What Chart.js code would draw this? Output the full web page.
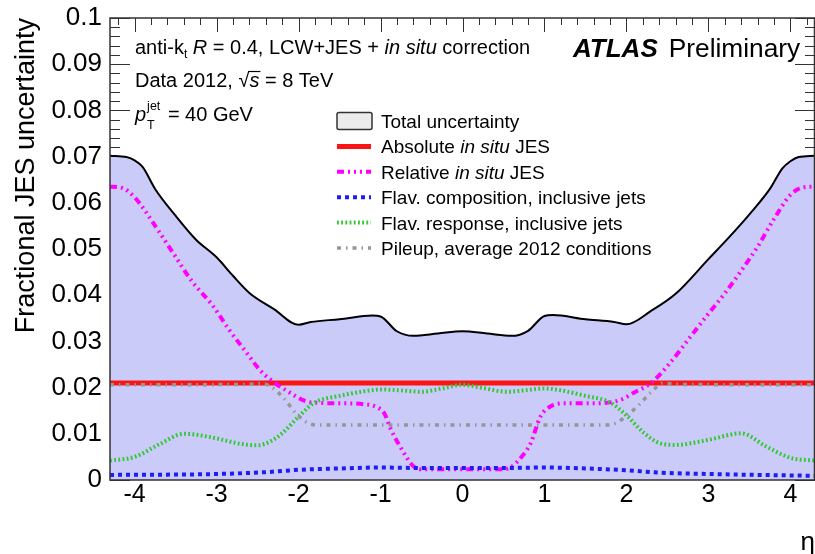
<!DOCTYPE html>
<html>
<head>
<meta charset="utf-8">
<script src="https://cdn.jsdelivr.net/npm/chart.js@4/dist/chart.umd.min.js"></script>
<style>
  html, body { margin: 0; padding: 0; background: #fff; }
</style>
</head>
<body>
<canvas id="graficoJES" width="815" height="554"></canvas>
<script>
const FONT = '"Liberation Sans", Arial, Helvetica, sans-serif';

// eta grid and values for each component
const etaTotal = [-4.3, -4.1, -4.0, -3.9, -3.75, -3.5, -3.25, -3.0, -2.8, -2.6, -2.3, -2.0, -1.85, -1.5, -1.1, -1.0, -0.8, -0.6, -0.3, 0, 0.3, 0.6, 0.8, 1.0, 1.1, 1.5, 1.85, 2.0, 2.3, 2.6, 3.0, 3.25, 3.5, 3.75, 3.9, 4.0, 4.1, 4.3];
const total = [0.0702, 0.0699, 0.0692, 0.0677, 0.0630, 0.0572, 0.0520, 0.0482, 0.0442, 0.0405, 0.0370, 0.0336, 0.0342, 0.0348, 0.0356, 0.0354, 0.0322, 0.0312, 0.0317, 0.0322, 0.0317, 0.0312, 0.0323, 0.0355, 0.0357, 0.0348, 0.0342, 0.0337, 0.0366, 0.0403, 0.0478, 0.0525, 0.0575, 0.0630, 0.0674, 0.0690, 0.0699, 0.0702];

const etaAbs = [-4.3, 4.3];
const absolute = [0.021, 0.021];

const etaRel = [-4.3, -4.15, -4.0, -3.7, -3.5, -3.3, -3.05, -2.85, -2.65, -2.45, -2.15, -1.85, -1.5, -1.2, -1.05, -0.95, -0.88, -0.76, -0.6, -0.5, 0, 0.5, 0.6, 0.72, 0.83, 0.95, 1.07, 1.25, 1.6, 1.92, 2.1, 2.3, 2.53, 2.78, 3.0, 3.2, 3.4, 3.6, 3.8, 4.0, 4.15, 4.3];
const relative = [0.0635, 0.0632, 0.0612, 0.0537, 0.0483, 0.0430, 0.0378, 0.0326, 0.0279, 0.0234, 0.0194, 0.0168, 0.0166, 0.0164, 0.0158, 0.0143, 0.0112, 0.0072, 0.0030, 0.0023, 0.0023, 0.0023, 0.0029, 0.0050, 0.0079, 0.0137, 0.0159, 0.0166, 0.0166, 0.0173, 0.0190, 0.0210, 0.0253, 0.0310, 0.0360, 0.0404, 0.0453, 0.0505, 0.0565, 0.0617, 0.0633, 0.0635];

const etaComp = [-4.3, -3.0, -2.4, -2.0, -1.5, -1.0, -0.5, 0, 0.5, 1.0, 1.5, 2.0, 2.4, 3.0, 4.3];
const flavComp = [0.0011, 0.0013, 0.0017, 0.0022, 0.0025, 0.0027, 0.0026, 0.0026, 0.0026, 0.0027, 0.0025, 0.0021, 0.0016, 0.0013, 0.0009];

const etaResp = [-4.3, -4.0, -3.7, -3.4, -3.25, -3.0, -2.7, -2.5, -2.35, -2.2, -2.0, -1.8, -1.5, -1.2, -1.0, -0.75, -0.5, -0.25, 0, 0.25, 0.55, 0.8, 1.0, 1.2, 1.5, 1.8, 2.0, 2.2, 2.4, 2.6, 3.0, 3.4, 3.7, 4.0, 4.3];
const flavResp = [0.0042, 0.0050, 0.0077, 0.0100, 0.0098, 0.0090, 0.0078, 0.0075, 0.0083, 0.0101, 0.0137, 0.0168, 0.0182, 0.0192, 0.0196, 0.0194, 0.0191, 0.0198, 0.0206, 0.0199, 0.0191, 0.0195, 0.0198, 0.0194, 0.0182, 0.0168, 0.0140, 0.0104, 0.0080, 0.0076, 0.0087, 0.0101, 0.0073, 0.0048, 0.0042];

const etaPileup = [-4.3, -2.6, -2.45, -2.33, -2.18, -2.03, -1.88, -1.75, 1.75, 1.88, 2.0, 2.15, 2.3, 2.45, 2.6, 4.3];
const pileup = [0.0206, 0.0207, 0.0209, 0.0201, 0.0177, 0.0144, 0.0123, 0.0119, 0.0119, 0.0124, 0.0139, 0.0162, 0.0190, 0.0210, 0.0207, 0.0206];

// legend entries (italic parts flagged)
const legendLabels = [
    [{ t: "Total uncertainty" }],
    [{ t: "Absolute " }, { t: "in situ", i: true }, { t: " JES" }],
    [{ t: "Relative " }, { t: "in situ", i: true }, { t: " JES" }],
    [{ t: "Flav. composition, inclusive jets" }],
    [{ t: "Flav. response, inclusive jets" }],
    [{ t: "Pileup, average 2012 conditions" }],
];

const pares = (xs, ys) => xs.map((x, i) => ({ x, y: ys[i] }));

function fonte(size, italic, bold) {
    return `${italic ? "italic " : ""}${bold ? "bold " : ""}${size}px ${FONT}`;
}

function desenhaTrechos(ctx, x, y, trechos, size) {
    trechos.forEach((r) => {
        ctx.font = fonte(r.size || size, r.i, r.b);
        ctx.fillText(r.t, x, y + (r.dy || 0));
        x += ctx.measureText(r.t).width;
    });
    return x;
}

// inward ROOT-style ticks on all four sides, drawn under the filled band
const ticksPlugin = {
    id: "ticksInternos",
    beforeDatasetsDraw(chart) {
        const { ctx, chartArea: a, scales } = chart;
        const sx = scales.x, sy = scales.y;
        ctx.save();
        ctx.strokeStyle = "#333";
        ctx.lineWidth = 1;
        ctx.beginPath();
        for (let k = -21; k <= 21; k++) {
            const px = Math.round(sx.getPixelForValue(k * 0.2)) + 0.5;
            const len = k % 5 === 0 ? 14 : 7;
            ctx.moveTo(px, a.top); ctx.lineTo(px, a.top + len);
            ctx.moveTo(px, a.bottom); ctx.lineTo(px, a.bottom - len);
        }
        for (let k = 0; k <= 50; k++) {
            const py = Math.round(sy.getPixelForValue(k * 0.002)) + 0.5;
            const len = k % 5 === 0 ? 20 : 10;
            ctx.moveTo(a.left, py); ctx.lineTo(a.left + len, py);
            ctx.moveTo(a.right, py); ctx.lineTo(a.right - len, py);
        }
        ctx.stroke();
        ctx.restore();
    },
    afterDatasetsDraw(chart) {
        const { ctx, chartArea: a } = chart;
        ctx.save();
        ctx.strokeStyle = "#333";
        ctx.lineWidth = 1.5;
        ctx.strokeRect(a.left, a.top, a.right - a.left - 0.5, a.bottom - a.top);
        ctx.restore();
    },
};

// annotation text and legend
const textoPlugin = {
    id: "textos",
    afterDraw(chart) {
        const { ctx, chartArea: a } = chart;
        ctx.save();
        ctx.fillStyle = "#000";
        ctx.textBaseline = "alphabetic";
        const x0 = a.left + 25;
        const fs = 20;

        desenhaTrechos(ctx, x0, 54, [
            { t: "anti-k" }, { t: "t", size: 12, dy: 4 }, { t: " " },
            { t: "R", i: true }, { t: " = 0.4, LCW+JES + " },
            { t: "in situ", i: true }, { t: " correction" },
        ], fs);

        let x = desenhaTrechos(ctx, x0, 87, [{ t: "Data 2012, " }, { t: "\u221A" }], fs);
        const xs = x;
        x = desenhaTrechos(ctx, x, 87, [{ t: "s", i: true }], fs);
        ctx.lineWidth = 1.2;
        ctx.strokeStyle = "#000";
        ctx.beginPath();
        ctx.moveTo(xs - 1, 71.5); ctx.lineTo(x + 1, 71.5);
        ctx.stroke();
        desenhaTrechos(ctx, x, 87, [{ t: " = 8 TeV" }], fs);

        x = desenhaTrechos(ctx, x0, 121, [{ t: "p", i: true }], fs);
        ctx.font = fonte(12.5);
        const wSup = ctx.measureText("jet").width;
        ctx.fillText("jet", x + 1, 110);
        ctx.fillText("T", x + 1, 129);
        desenhaTrechos(ctx, x + wSup + 3, 121, [{ t: " = 40 GeV" }], fs);

        ctx.font = fonte(26, true, true);
        ctx.fillText("ATLAS", a.left + 463, 57);
        const wAtlas = ctx.measureText("ATLAS").width;
        ctx.font = fonte(26.3);
        ctx.fillText("Preliminary", a.left + 463 + wAtlas + 11, 57);

        // legend
        const lx = a.left + 227, lw = 34, tx = a.left + 271;
        chart.data.datasets.forEach((ds, i) => {
            const base = 128 + i * 25.4;
            const cy = base - 7;
            if (ds.fill) {
                ctx.fillStyle = "#ececec";
                ctx.strokeStyle = "#333";
                ctx.lineWidth = 1.5;
                ctx.beginPath();
                ctx.roundRect(lx, cy - 8.5, lw + 1, 17, 2);
                ctx.fill();
                ctx.stroke();
            } else {
                ctx.strokeStyle = ds.borderColor;
                ctx.lineWidth = ds.borderWidth;
                ctx.setLineDash(ds.borderDash || []);
                ctx.beginPath();
                ctx.moveTo(lx, cy); ctx.lineTo(lx + lw, cy);
                ctx.stroke();
                ctx.setLineDash([]);
            }
            ctx.fillStyle = "#000";
            desenhaTrechos(ctx, tx, base, legendLabels[i], 19);
        });
        ctx.restore();
    },
};

const linha = { pointRadius: 0, cubicInterpolationMode: "monotone", fill: false };

// the frame position comes from the layout padding only, not from tick label overhang
const semSobra = (s) => {
    s.paddingTop = 0; s.paddingBottom = 0;
    s.paddingLeft = 0; s.paddingRight = 0;
};

new Chart(document.getElementById("graficoJES"), {
    type: "line",
    data: {
        datasets: [
            { ...linha, data: pares(etaTotal, total), borderColor: "#000", borderWidth: 2,
              fill: "origin", backgroundColor: "rgb(203, 203, 250)", order: 6 },
            { ...linha, data: pares(etaAbs, absolute), borderColor: "rgb(250, 20, 20)", borderWidth: 5, order: 5 },
            { ...linha, data: pares(etaRel, relative), borderColor: "#ff00ff", borderWidth: 4,
              borderDash: [7, 4, 2, 4, 2, 4, 2, 4], order: 4 },
            { ...linha, data: pares(etaComp, flavComp), borderColor: "rgb(30, 30, 240)", borderWidth: 4,
              borderDash: [4, 4], order: 3 },
            { ...linha, data: pares(etaResp, flavResp), borderColor: "rgb(50, 200, 50)", borderWidth: 4,
              borderDash: [1.8, 2.4], order: 2 },
            { ...linha, data: pares(etaPileup, pileup), borderColor: "rgb(150, 150, 150)", borderWidth: 3.5,
              borderDash: [4, 5, 1.5, 5], order: 1 },
        ],
    },
    options: {
        responsive: false,
        animation: false,
        layout: { padding: { top: 18, right: 0, left: 0, bottom: 0 } },
        plugins: { legend: { display: false }, tooltip: { enabled: false } },
        scales: {
            x: {
                type: "linear",
                min: -4.3,
                max: 4.3,
                grid: { display: false, drawTicks: false },
                border: { display: false },
                ticks: {
                    stepSize: 1,
                    includeBounds: false,
                    maxRotation: 0,
                    color: "#000",
                    padding: 0,
                    font: { size: 25, family: FONT },
                },
                title: {
                    display: true,
                    text: "\u03B7",
                    align: "end",
                    color: "#000",
                    font: { size: 26, family: FONT },
                    padding: { top: 0, bottom: -4 },
                },
                afterFit: (s) => { s.height = 74; semSobra(s); },
            },
            y: {
                min: 0,
                max: 0.1,
                grid: { display: false, drawTicks: false },
                border: { display: false },
                ticks: {
                    stepSize: 0.01,
                    color: "#000",
                    padding: 8,
                    font: { size: 26, family: FONT },
                    callback: (v) => String(+v.toFixed(2)),
                },
                title: {
                    display: true,
                    text: "Fractional JES uncertainty",
                    align: "end",
                    color: "#000",
                    font: { size: 27, family: FONT },
                    padding: { top: 10, bottom: 0 },
                },
                afterFit: (s) => { s.width = 110; semSobra(s); },
            },
        },
    },
    plugins: [ticksPlugin, textoPlugin],
});
</script>
</body>
</html>
